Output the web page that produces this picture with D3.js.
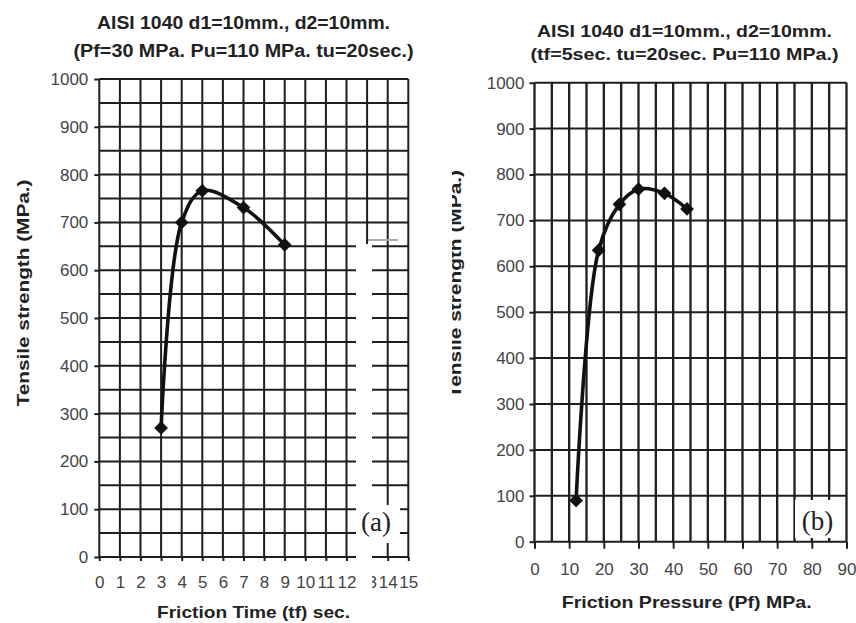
<!DOCTYPE html>
<html>
<head>
<meta charset="utf-8">
<script src="https://cdn.jsdelivr.net/npm/d3@7"></script>
<style>
    body { margin: 0; background: #fff; }
    svg { display: block; }
</style>
</head>
<body>
<svg id="chart" width="856" height="623" font-family='"Liberation Sans", Arial, sans-serif'></svg>
<script>
// (a) strength against friction time
var timeValues = [3, 4, 5, 7, 9];
var timeStrength = [270, 700, 766, 731, 653];
var timeTicks = [0, 1, 2, 3, 4, 5, 6, 7, 8, 9, 10, 11, 12, 13, 14, 15];

// (b) strength against friction pressure
var pressureValues = [12, 18.5, 24.5, 30, 37.5, 44];
var pressureStrength = [90, 635, 735, 768, 759, 725];
var pressureTicks = [0, 10, 20, 30, 40, 50, 60, 70, 80, 90];

var strengthTicks = [0, 100, 200, 300, 400, 500, 600, 700, 800, 900, 1000];

var titleA = ['AISI 1040 d1=10mm., d2=10mm.', '(Pf=30 MPa. Pu=110 MPa. tu=20sec.)'];
var titleB = ['AISI 1040 d1=10mm., d2=10mm.', '(tf=5sec. tu=20sec. Pu=110 MPa.)'];
var yTitle = 'Tensile strength (MPa.)';
var xTitleA = 'Friction Time (tf) sec.';
var xTitleB = 'Friction Pressure (Pf) MPa.';

var svg = d3.select('#chart');

var panels = [
    {
        id: 'a',
        xs: timeValues, ys: timeStrength,
        x: d3.scaleLinear().domain([0, 15]).range([99.3, 408.3]),
        y: d3.scaleLinear().domain([0, 1000]).range([557, 79]),
        xTicks: timeTicks,
        xGrid: timeTicks,
        yGrid: d3.range(0, 1001, 50),
        xTickSize: 4, xPad: 14.6,
        titles: titleA, titleY: [28.5, 56.5], titleX: 243.5, titleW: [293, 340], titleSize: 17.5,
        xTitle: xTitleA, xTitleX: 253.5, xTitleY: 618, xTitleW: 193,
        yTitleX: 29, yTitleY: 293, yTitleW: 227,
        tag: '(a)', tagBox: [357, 505, 43, 38], tagX: 376, tagY: 531
    },
    {
        id: 'b',
        xs: pressureValues, ys: pressureStrength,
        x: d3.scaleLinear().domain([0, 90]).range([534.5, 846.5]),
        y: d3.scaleLinear().domain([0, 1000]).range([541.7, 82.7]),
        xTicks: pressureTicks,
        xGrid: d3.range(0, 91, 5),
        yGrid: strengthTicks,
        xTickSize: 7, xPad: 14,
        titles: titleB, titleY: [37.3, 60], titleX: 684.5, titleW: [295, 308], titleSize: 16.5,
        xTitle: xTitleB, xTitleX: 686.7, xTitleY: 608, xTitleW: 250,
        yTitleX: 461, yTitleY: 284, yTitleW: 228,
        tag: '(b)', tagBox: [795, 500, 48, 38], tagX: 817.5, tagY: 530
    }
];

panels.forEach(function(p)
{
    var g = svg.append('g').attr('class', 'panel-' + p.id);
    var x = p.x, y = p.y;
    var x0 = x.range()[0], x1 = x.range()[1];
    var y0 = y.range()[0], y1 = y.range()[1];

    // grid
    g.selectAll('.vgrid').data(p.xGrid).enter()
        .append('line')
        .attr('x1', function(d) { return x(d); })
        .attr('x2', function(d) { return x(d); })
        .attr('y1', y1).attr('y2', y0)
        .attr('stroke', '#1e1e1e').attr('stroke-width', p.id == 'b' ? 2.3 : 2);

    g.selectAll('.hgrid').data(p.yGrid).enter()
        .append('line')
        .attr('x1', x0).attr('x2', x1)
        .attr('y1', function(d) { return y(d); })
        .attr('y2', function(d) { return y(d); })
        .attr('stroke', '#1e1e1e').attr('stroke-width', 2);

    // axes
    var yAxis = g.append('g')
        .attr('transform', 'translate(' + x0 + ',0)')
        .call(d3.axisLeft(y).tickValues(strengthTicks).tickFormat(d3.format('d'))
            .tickSize(5).tickPadding(p.id == 'a' ? 6 : 5));

    var xAxis = g.append('g')
        .attr('transform', 'translate(0,' + y0 + ')')
        .call(d3.axisBottom(x).tickValues(p.xTicks).tickFormat(d3.format('d'))
            .tickSize(p.xTickSize).tickPadding(p.xPad));

    [yAxis, xAxis].forEach(function(ax)
    {
        ax.attr('font-family', null).attr('font-size', null);
        ax.select('.domain').remove();
        ax.selectAll('.tick line').attr('stroke', '#1e1e1e').attr('stroke-width', 2);
        ax.selectAll('.tick text')
            .attr('fill', '#444')
            .style('font-size', '17px');
    });

    // titles
    p.titles.forEach(function(t, i)
    {
        g.append('text')
            .attr('x', p.titleX).attr('y', p.titleY[i])
            .attr('text-anchor', 'middle')
            .attr('font-size', p.titleSize + 'px')
            .attr('font-weight', 'bold')
            .attr('fill', '#222')
            .attr('textLength', p.titleW[i])
            .attr('lengthAdjust', 'spacingAndGlyphs')
            .text(t);
    });

    g.append('text')
        .attr('x', p.xTitleX).attr('y', p.xTitleY)
        .attr('text-anchor', 'middle')
        .attr('font-size', '17px')
        .attr('font-weight', 'bold')
        .attr('fill', '#222')
        .attr('textLength', p.xTitleW)
        .attr('lengthAdjust', 'spacingAndGlyphs')
        .text(p.xTitle);

    var yLabelWrap = g.append('g');
    yLabelWrap.append('text')
        .attr('transform', 'translate(' + p.yTitleX + ',' + p.yTitleY + ') rotate(-90)')
        .attr('text-anchor', 'middle')
        .attr('font-size', '17px')
        .attr('font-weight', 'bold')
        .attr('fill', '#222')
        .attr('textLength', p.yTitleW)
        .attr('lengthAdjust', 'spacingAndGlyphs')
        .text(yTitle);

    if(p.id == 'b')
    {
        // the scan cut off the top half of this label
        svg.append('clipPath').attr('id', 'cutLabel')
            .append('rect').attr('x', 452).attr('y', 0).attr('width', 40).attr('height', 623);
        yLabelWrap.attr('clip-path', 'url(#cutLabel)');
    }

    // white patches left over in the scan
    if(p.id == 'a')
    {
        g.append('rect')
            .attr('x', 356).attr('y', 244).attr('width', 16).attr('height', 348)
            .attr('fill', '#fff');
        g.append('line')
            .attr('x1', 368).attr('x2', 398).attr('y1', 240).attr('y2', 240)
            .attr('stroke', '#aaa').attr('stroke-width', 2);
    }

    g.append('rect')
        .attr('x', p.tagBox[0]).attr('y', p.tagBox[1])
        .attr('width', p.tagBox[2]).attr('height', p.tagBox[3])
        .attr('fill', '#fff');

    g.append('text')
        .attr('x', p.tagX).attr('y', p.tagY)
        .attr('text-anchor', 'middle')
        .attr('font-family', '"Liberation Serif", "Times New Roman", serif')
        .attr('font-size', '27px')
        .attr('fill', '#222')
        .text(p.tag);

    // data line
    var pts = p.xs.map(function(v, i) { return [v, p.ys[i]]; });

    var line = d3.line()
        .x(function(d) { return x(d[0]); })
        .y(function(d) { return y(d[1]); })
        .curve(d3.curveCatmullRom);

    g.append('path')
        .datum(pts)
        .attr('d', line)
        .attr('fill', 'none')
        .attr('stroke', '#111')
        .attr('stroke-width', 3.6)
        .attr('stroke-linejoin', 'round');

    g.selectAll('.marker').data(pts).enter()
        .append('path')
        .attr('class', 'marker')
        .attr('d', d3.symbol().type(d3.symbolSquare).size(95))
        .attr('transform', function(d)
        {
            return 'translate(' + x(d[0]) + ',' + y(d[1]) + ') rotate(45)';
        })
        .attr('fill', '#111');
});
</script>
</body>
</html>
